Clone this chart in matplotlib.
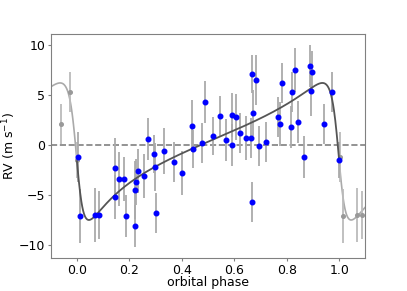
import numpy as np
import matplotlib
matplotlib.use('Agg')
import matplotlib.pyplot as plt

# measured radial velocities folded on the orbital period
phase = [0.003, 0.013, 0.068, 0.086, 0.145, 0.145, 0.159, 0.179, 0.188, 0.220,
         0.220, 0.225, 0.234, 0.254, 0.271, 0.294, 0.296, 0.300, 0.332, 0.370,
         0.402, 0.439, 0.444, 0.477, 0.490, 0.519, 0.547, 0.569, 0.591, 0.591,
         0.605, 0.621, 0.643, 0.663, 0.666, 0.666, 0.670, 0.681, 0.694, 0.720,
         0.767, 0.773, 0.782, 0.815, 0.821, 0.831, 0.843, 0.865, 0.889, 0.893,
         0.896, 0.941, 0.973, 1.000]
rv = [-1.2, -7.1, -7.0, -7.0, -2.3, -5.2, -3.4, -3.4, -7.1, -4.5,
      -8.1, -3.7, -2.6, -3.1, 0.6, -0.9, -2.2, -6.8, -0.6, -1.7,
      -2.8, 1.9, -0.4, 0.2, 4.3, 0.9, 2.9, 0.5, 3.0, 0.0,
      2.8, 1.2, 0.7, 0.7, 7.1, -5.7, 3.2, 6.5, -0.1, 0.3,
      2.8, 2.1, 6.2, 1.8, 5.3, 7.5, 2.3, -1.2, 7.9, 5.4,
      7.3, 2.1, 5.3, -1.5]
rv_err = [2.5, 2.7, 2.7, 2.4, 3.0, 2.2, 2.7, 2.2, 2.1, 2.9,
          2.1, 2.3, 2.2, 2.2, 2.1, 1.9, 2.4, 2.0, 2.3, 2.0,
          2.2, 2.6, 1.9, 2.0, 2.1, 1.9, 2.0, 2.1, 2.2, 2.1,
          2.3, 2.0, 2.2, 2.0, 1.9, 2.0, 2.3, 2.5, 2.0, 2.0,
          2.0, 2.2, 2.0, 2.1, 2.0, 2.2, 2.1, 2.1, 2.1, 2.5,
          2.1, 2.0, 2.0, 1.8]

# keplerian orbit parameters (periastron at phase 0)
K = 6.85
ecc = 0.67
omega = np.radians(98.15)
gamma = 0.0


def kepler_rv(ph):
    M = 2 * np.pi * ph
    E = M.copy()
    for _ in range(50):
        E = E - (E - ecc * np.sin(E) - M) / (1 - ecc * np.cos(E))
    nu = 2 * np.arctan2(np.sqrt(1 + ecc) * np.sin(E / 2),
                        np.sqrt(1 - ecc) * np.cos(E / 2))
    return K * (np.cos(nu + omega) + ecc * np.cos(omega)) + gamma


phase = np.array(phase)
rv = np.array(rv)
rv_err = np.array(rv_err)

fig = plt.figure(figsize=(4.07, 2.91), dpi=100)
ax = fig.add_axes([0.1246, 0.1124, 0.7733, 0.770])

# model curve, darker inside one period
ph_in = np.linspace(0, 1, 600)
ph_lo = np.linspace(-0.1, 0, 100)
ph_hi = np.linspace(1, 1.1, 100)
ax.plot(ph_lo, kepler_rv(ph_lo), color='#aaaaaa', lw=1.2, zorder=2)
ax.plot(ph_hi, kepler_rv(ph_hi), color='#aaaaaa', lw=1.2, zorder=2)
ax.plot(ph_in, kepler_rv(ph_in), color='#555555', lw=1.3, zorder=3)

ax.axhline(0, color='grey', ls='--', lw=1.2, zorder=1)

# repeated points outside [0, 1]
lo = phase > 0.9
hi = phase < 0.1
ax.errorbar(phase[lo] - 1, rv[lo], yerr=rv_err[lo], fmt='o', color='#999999',
            ms=2.6, ecolor='#bbbbbb', elinewidth=1.3, zorder=2)
ax.errorbar(phase[hi] + 1, rv[hi], yerr=rv_err[hi], fmt='o', color='#999999',
            ms=2.6, ecolor='#bbbbbb', elinewidth=1.3, zorder=2)

ax.errorbar(phase, rv, yerr=rv_err, fmt='none', ecolor='#aaaaaa',
            elinewidth=1.3, zorder=2)
ax.plot(phase, rv, 'o', color='blue', ms=3.3, zorder=4)

ax.set_xlim(-0.1, 1.1)
ax.set_ylim(-11.33, 11.07)
ax.set_xticks([0.0, 0.2, 0.4, 0.6, 0.8, 1.0])
ax.set_yticks([-10, -5, 0, 5, 10])
for sp in ax.spines.values():
    sp.set_color('grey')
ax.tick_params(color='grey', labelsize=9, length=2.5, pad=1.5)
ax.set_xlabel('orbital phase', fontsize=9)
ax.set_ylabel('RV (m s$^{-1}$)', fontsize=9)
ax.xaxis.set_label_coords(0.5, -0.079)
ax.yaxis.set_label_coords(-0.105, 0.5)

fig.savefig('out.png', dpi=100)
